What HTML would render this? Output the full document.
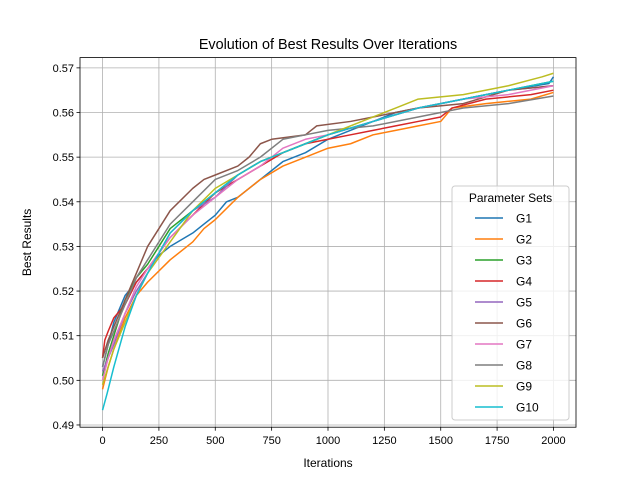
<!DOCTYPE html>
<html><head><meta charset="utf-8"><style>
body{margin:0;background:#fff}
svg{display:block;font-family:"Liberation Sans","DejaVu Sans",sans-serif}
</style></head><body>
<svg id="c" width="640" height="480"></svg>
<script>
const xTicks=[0,250,500,750,1000,1250,1500,1750,2000];
const yTicks=[0.49,0.50,0.51,0.52,0.53,0.54,0.55,0.56,0.57];
const names=["G1","G2","G3","G4","G5","G6","G7","G8","G9","G10"];
const colors=["#1f77b4","#ff7f0e","#2ca02c","#d62728","#9467bd","#8c564b","#e377c2","#7f7f7f","#bcbd22","#17becf"];
const sIters=[
[0,25,50,100,150,200,250,300,400,450,500,550,600,700,800,900,1000,1100,1200,1300,1400,1500,1600,1800,1980,2000],
[0,25,50,100,150,200,300,400,450,500,600,700,800,900,1000,1100,1200,1300,1400,1500,1550,1700,1900,2000],
[0,25,50,100,150,200,250,300,400,500,600,700,800,900,1000,1200,1400,1600,1800,2000],
[0,10,25,50,100,150,200,300,400,500,600,700,800,900,1000,1100,1200,1300,1400,1500,1550,1700,1900,2000],
[0,25,50,100,150,200,300,400,500,600,700,800,900,1000,1200,1400,1600,1800,2000],
[0,25,50,100,150,200,250,300,400,450,500,600,650,700,750,900,950,1100,1200,1300,1400,1600,1800,2000],
[0,25,50,100,150,200,300,400,500,600,700,800,900,1000,1200,1400,1600,1800,2000],
[0,25,50,100,150,200,300,400,500,600,700,800,900,1000,1200,1400,1600,1800,2000],
[0,25,50,100,150,200,300,400,500,600,700,800,900,1000,1200,1300,1400,1600,1800,1950,2000],
[0,20,50,100,150,200,300,400,500,600,700,800,900,1000,1200,1400,1600,1800,2000]];
const sVals=[
[0.503,0.508,0.513,0.519,0.522,0.525,0.528,0.530,0.533,0.535,0.537,0.540,0.541,0.545,0.549,0.551,0.554,0.556,0.558,0.560,0.561,0.562,0.563,0.565,0.5665,0.568],
[0.498,0.503,0.507,0.514,0.519,0.522,0.527,0.531,0.534,0.536,0.541,0.545,0.548,0.550,0.552,0.553,0.555,0.556,0.557,0.558,0.561,0.562,0.563,0.5645],
[0.501,0.506,0.510,0.518,0.523,0.526,0.530,0.534,0.538,0.542,0.546,0.549,0.551,0.553,0.555,0.558,0.561,0.563,0.565,0.567],
[0.505,0.509,0.511,0.514,0.517,0.522,0.525,0.532,0.537,0.542,0.545,0.548,0.551,0.553,0.554,0.555,0.556,0.557,0.558,0.559,0.561,0.563,0.564,0.565],
[0.502,0.505,0.508,0.515,0.520,0.524,0.533,0.538,0.541,0.546,0.549,0.551,0.553,0.555,0.558,0.561,0.563,0.565,0.566],
[0.505,0.509,0.512,0.518,0.524,0.530,0.534,0.538,0.543,0.545,0.546,0.548,0.550,0.553,0.554,0.555,0.557,0.558,0.559,0.560,0.561,0.562,0.565,0.566],
[0.500,0.505,0.509,0.515,0.521,0.525,0.532,0.537,0.541,0.545,0.548,0.552,0.554,0.555,0.558,0.561,0.563,0.564,0.566],
[0.503,0.508,0.511,0.517,0.523,0.527,0.535,0.540,0.545,0.547,0.550,0.554,0.555,0.556,0.557,0.559,0.561,0.562,0.5637],
[0.499,0.503,0.507,0.513,0.519,0.524,0.531,0.538,0.543,0.546,0.549,0.551,0.553,0.555,0.559,0.561,0.563,0.564,0.566,0.568,0.5688],
[0.4933,0.497,0.503,0.512,0.519,0.524,0.533,0.538,0.542,0.546,0.549,0.551,0.553,0.555,0.558,0.561,0.563,0.565,0.567]];

const L=80,R=576,T=57.6,B=427.2;
const xMin=-100,xMax=2100,yMin=0.4895,yMax=0.5723;
const X=v=>L+(v-xMin)/(xMax-xMin)*(R-L);
const Y=v=>B-(v-yMin)/(yMax-yMin)*(B-T);
const svg=document.getElementById('c');
const NS="http://www.w3.org/2000/svg";
function mk(tag,attrs,parent){const e=document.createElementNS(NS,tag);for(const k in attrs)e.setAttribute(k,attrs[k]);(parent||svg).appendChild(e);return e;}
function txt(s,attrs){const e=mk('text',attrs);e.textContent=s;return e;}

xTicks.forEach(t=>{const x=X(t);
 const g=mk('line',{x1:x,x2:x,y1:T,y2:B,stroke:'#b0b0b0','stroke-width':0.8});
 
 mk('line',{x1:x,x2:x,y1:B,y2:B+3.5,stroke:'#000','stroke-width':0.8});
 const l=txt(String(t),{x:x,y:B+17,'font-size':11,'text-anchor':'middle',fill:'#000'});
 });
yTicks.forEach(t=>{const y=Y(t);
 const g=mk('line',{x1:L,x2:R,y1:y,y2:y,stroke:'#b0b0b0','stroke-width':0.8});
 
 mk('line',{x1:L-3.5,x2:L,y1:y,y2:y,stroke:'#000','stroke-width':0.8});
 const l=txt(t.toFixed(2),{x:L-6,y:y+4,'font-size':11,'text-anchor':'end',fill:'#000'});
 });

sVals.forEach((vals,i)=>{const its=sIters[i];let d='M'+X(its[0])+','+Y(vals[0]);
 for(let k=1;k<its.length;k++){d+=' L'+X(its[k])+','+Y(vals[k]);}
 const p=mk('path',{d:d,fill:'none',stroke:colors[i],'stroke-width':1.5,'stroke-linejoin':'round'});
 
 });

const fr=mk('rect',{x:L,y:T,width:R-L,height:B-T,fill:'none',stroke:'#000','stroke-width':0.8});


const tt=txt('Evolution of Best Results Over Iterations',{x:(L+R)/2,y:49,'font-size':14.4,'text-anchor':'middle'});

const xt=txt('Iterations',{x:(L+R)/2,y:467,'font-size':12,'text-anchor':'middle'});

const yt=txt('Best Results',{x:0,y:0,'font-size':12,'text-anchor':'middle',transform:'translate(31,'+((T+B)/2)+') rotate(-90)'});


const lg=mk('g',{});

mk('rect',{x:452,y:186,width:117,height:234,rx:3,fill:'#fff','fill-opacity':0.8,stroke:'#ccc','stroke-width':1},lg);
const lt=mk('text',{x:510.5,y:202,'font-size':12,'text-anchor':'middle'},lg);lt.textContent='Parameter Sets';

names.forEach((n,i)=>{const y=218+i*21;
 const g=mk('g',{},lg);
 
 
 mk('line',{x1:475,x2:503,y1:y,y2:y,stroke:colors[i],'stroke-width':1.5},g);
 const t=mk('text',{x:516,y:y+4.5,'font-size':12},g);t.textContent=n;});
</script>
</body></html>
